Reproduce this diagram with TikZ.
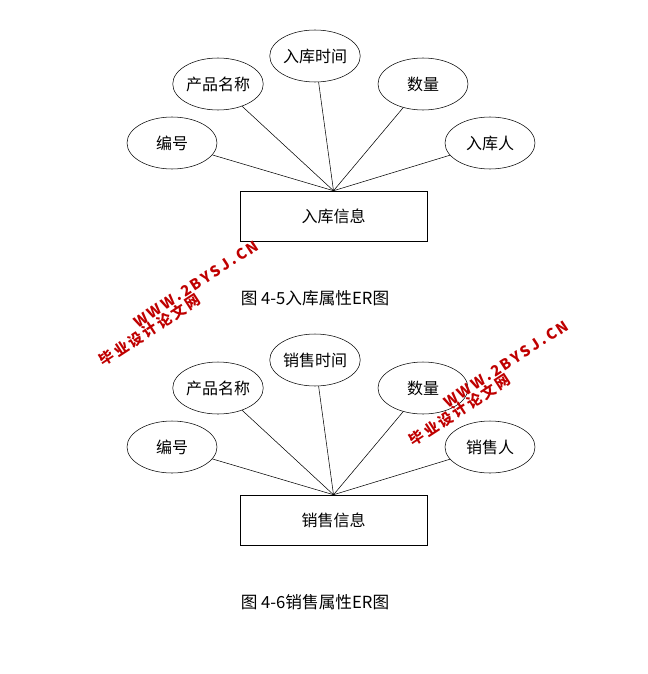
\documentclass[tikz,border=0pt]{standalone}
\usepackage{fontspec}
\newfontfamily\cjk{Noto Sans CJK SC}
\usetikzlibrary{shapes.geometric}
\tikzset{
 attr/.style={draw,ellipse,minimum width=67.5pt,minimum height=39pt,inner sep=0pt,font=\cjk\fontsize{12}{14}\selectfont},
 ent/.style={draw,rectangle,minimum width=140pt,minimum height=37.5pt,font=\cjk\fontsize{12}{14}\selectfont},
 wm/.style={text=red!75!black,font=\cjk\bfseries\fontsize{11}{12}\selectfont,rotate=33,inner sep=0pt},
}
\begin{document}
\begin{tikzpicture}[x=0.75pt,y=-0.75pt]
\useasboundingbox (0,0) rectangle (648,674);
\foreach \dy/\p/\name/\ent/\cap in {0/a/入库/入库信息/图 4-5入库属性ER图, 304/b/销售/销售信息/图 4-6销售属性ER图}{
 \node[attr] (\p1) at (172,143+\dy) {编号};
 \node[attr] (\p2) at (218,84+\dy) {产品名称};
 \node[attr] (\p3) at (315,56+\dy) {\name 时间};
 \node[attr] (\p4) at (423,84+\dy) {数量};
 \node[attr] (\p5) at (490,143+\dy) {\name 人};
 \node[ent] (\p e) at (333.5,216+\dy) {\ent};
 \foreach \i in {1,...,5} \draw (\p e.north) -- (\p\i);
 \node[font=\cjk\fontsize{12.5}{14}\selectfont] (\p c) at (315,298+\dy) {\cap};
}
\node[wm] (w1) at (150,330) {毕\,业\,设\,计\,论\,文\,网};
\node[wm] (w2) at (196,284) {W\,W\,W\,.\,2\,B\,Y\,S\,J\,.\,C\,N};
\node[wm] (w3) at (460,410) {毕\,业\,设\,计\,论\,文\,网};
\node[wm] (w4) at (506,364) {W\,W\,W\,.\,2\,B\,Y\,S\,J\,.\,C\,N};
\end{tikzpicture}
\end{document}
